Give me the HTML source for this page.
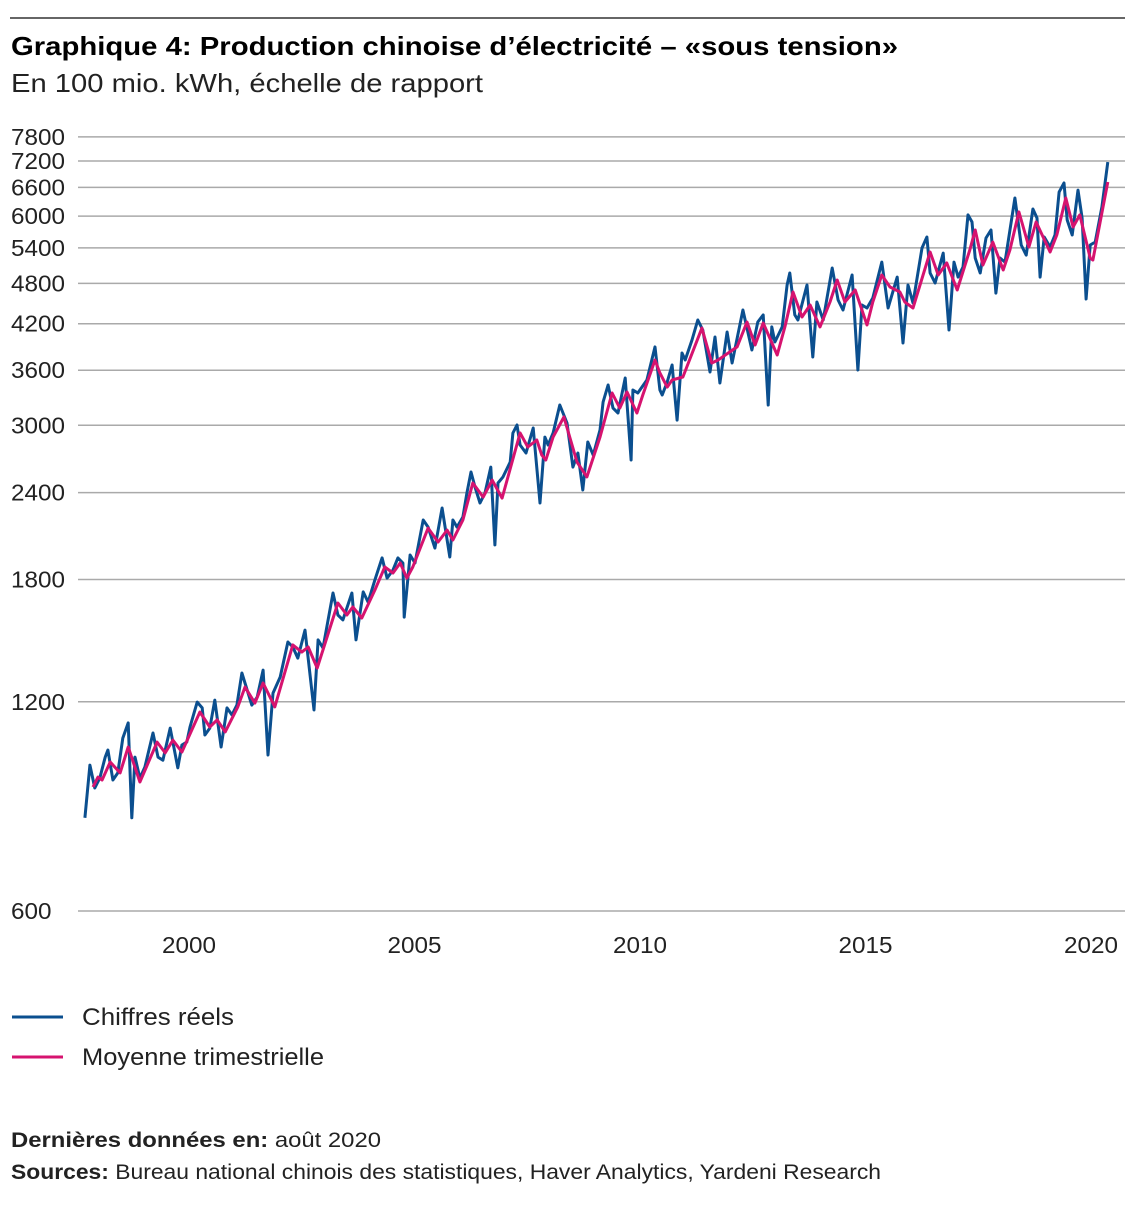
<!DOCTYPE html>
<html><head><meta charset="utf-8"><style>
body{margin:0;background:#fff;font-family:"Liberation Sans",sans-serif;color:#111;}
svg text{font-family:"Liberation Sans",sans-serif;}
</style></head><body>
<svg width="1142" height="1200" xmlns="http://www.w3.org/2000/svg">
<line x1="10" y1="18" x2="1125" y2="18" stroke="#333" stroke-width="1.5"/>
<text x="11" y="55" font-size="26" font-weight="bold" textLength="887" lengthAdjust="spacingAndGlyphs">Graphique 4: Production chinoise d’électricité – «sous tension»</text>
<text x="11" y="92" font-size="26" fill="#222" textLength="472" lengthAdjust="spacingAndGlyphs">En 100 mio. kWh, échelle de rapport</text>
<g id="grid"></g><g id="yt"></g><g id="xt"></g>
<g id="series"></g>
<line x1="12" y1="1017" x2="63" y2="1017" stroke="#0b4f8f" stroke-width="3"/>
<text x="82" y="1025" font-size="24" fill="#222" textLength="152" lengthAdjust="spacingAndGlyphs">Chiffres réels</text>
<line x1="12" y1="1057" x2="63" y2="1057" stroke="#d6136f" stroke-width="3"/>
<text x="82" y="1065" font-size="24" fill="#222" textLength="242" lengthAdjust="spacingAndGlyphs">Moyenne trimestrielle</text>
<text x="11" y="1147" font-size="21" fill="#222" textLength="370" lengthAdjust="spacingAndGlyphs"><tspan font-weight="bold">Dernières données en:</tspan> août 2020</text>
<text x="11" y="1179" font-size="21" fill="#222" textLength="870" lengthAdjust="spacingAndGlyphs"><tspan font-weight="bold">Sources:</tspan> Bureau national chinois des statistiques, Haver Analytics, Yardeni Research</text>
</svg>
<script>
const yTicks=[600,1200,1800,2400,3000,3600,4200,4800,5400,6000,6600,7200,7800];
const xTicks=[2000,2005,2010,2015,2020];
const actualDates=[1997.67,1997.78,1997.89,1998.00,1998.12,1998.18,1998.29,1998.40,1998.51,1998.63,1998.71,1998.78,1998.89,1999.00,1999.18,1999.29,1999.40,1999.56,1999.73,1999.82,1999.93,2000.00,2000.16,2000.27,2000.33,2000.44,2000.55,2000.69,2000.82,2000.93,2001.04,2001.15,2001.37,2001.49,2001.62,2001.73,2001.84,2002.00,2002.17,2002.28,2002.39,2002.55,2002.75,2002.84,2002.95,2003.17,2003.28,2003.39,2003.59,2003.68,2003.84,2003.95,2004.10,2004.26,2004.37,2004.50,2004.61,2004.72,2004.75,2004.88,2004.99,2005.17,2005.28,2005.43,2005.59,2005.76,2005.83,2005.92,2006.05,2006.14,2006.23,2006.32,2006.43,2006.54,2006.67,2006.76,2006.83,2006.94,2007.10,2007.16,2007.25,2007.32,2007.45,2007.61,2007.76,2007.87,2007.94,2008.05,2008.20,2008.36,2008.49,2008.60,2008.71,2008.82,2008.94,2009.09,2009.16,2009.27,2009.38,2009.49,2009.65,2009.78,2009.82,2009.93,2010.13,2010.31,2010.42,2010.47,2010.58,2010.69,2010.80,2010.91,2010.98,2011.13,2011.26,2011.37,2011.53,2011.64,2011.75,2011.91,2012.02,2012.26,2012.46,2012.59,2012.71,2012.82,2012.90,2012.97,2013.13,2013.24,2013.30,2013.41,2013.48,2013.68,2013.81,2013.90,2014.04,2014.24,2014.37,2014.48,2014.68,2014.81,2014.90,2015.01,2015.14,2015.34,2015.48,2015.68,2015.81,2015.92,2016.03,2016.23,2016.34,2016.41,2016.52,2016.70,2016.83,2016.94,2017.03,2017.14,2017.25,2017.34,2017.41,2017.52,2017.65,2017.76,2017.87,2017.96,2018.07,2018.29,2018.43,2018.54,2018.69,2018.78,2018.85,2018.94,2019.07,2019.18,2019.27,2019.38,2019.45,2019.56,2019.69,2019.78,2019.87,2019.96,2020.07,2020.22,2020.35];
const actualValues=[817,973,902,932,999,1023,926,948,1064,1119,817,999,932,967,1082,999,989,1100,964,1040,1050,1104,1199,1176,1075,1100,1207,1033,1176,1149,1187,1320,1187,1219,1333,1006,1235,1303,1463,1439,1387,1522,1168,1473,1434,1721,1600,1574,1721,1473,1727,1670,1797,1933,1808,1857,1933,1901,1589,1952,1901,2192,2141,1997,2281,1939,2192,2141,2214,2397,2570,2445,2319,2397,2612,2018,2478,2528,2656,2924,3003,2810,2737,2973,2319,2885,2810,2924,3208,3023,2612,2737,2421,2838,2718,2953,3241,3428,3176,3124,3509,2674,3372,3339,3485,3889,3372,3317,3463,3663,3052,3812,3724,3979,4252,4114,3579,4019,3451,4087,3688,4396,3850,4224,4324,3208,4156,3953,4156,4775,4969,4324,4252,4775,3761,4514,4252,5052,4543,4396,4936,3603,4469,4424,4574,5152,4424,4901,3940,4775,4498,5398,5598,4969,4806,5308,4114,5152,4901,5069,6024,5884,5222,4969,5580,5729,4649,5222,5152,6371,5452,5273,6143,5962,4901,5598,5415,5636,6497,6695,5923,5636,6540,5962,4559,5452,5505,6185,7175];
const avgDates=[1997.85,1997.96,1998.05,1998.23,1998.45,1998.63,1998.89,1999.05,1999.27,1999.45,1999.62,1999.82,2000.22,2000.44,2000.60,2000.78,2001.06,2001.22,2001.44,2001.62,2001.88,2002.28,2002.48,2002.62,2002.82,2003.28,2003.48,2003.61,2003.81,2004.10,2004.32,2004.50,2004.66,2004.81,2004.94,2005.28,2005.50,2005.70,2005.83,2006.05,2006.27,2006.50,2006.70,2006.92,2007.32,2007.49,2007.69,2007.80,2007.89,2008.05,2008.29,2008.58,2008.80,2009.09,2009.36,2009.53,2009.69,2009.91,2010.04,2010.31,2010.42,2010.58,2010.69,2010.93,2011.35,2011.57,2011.71,2012.13,2012.35,2012.53,2012.71,2013.02,2013.19,2013.37,2013.57,2013.75,2013.97,2014.19,2014.35,2014.52,2014.75,2015.01,2015.14,2015.34,2015.52,2015.74,2015.85,2016.03,2016.41,2016.59,2016.78,2017.01,2017.29,2017.41,2017.58,2017.80,2018.03,2018.18,2018.38,2018.60,2018.76,2019.07,2019.22,2019.42,2019.58,2019.73,2019.96,2020.02,2020.35];
const avgValues=[905,935,926,983,948,1033,920,973,1050,1013,1057,1016,1160,1104,1130,1086,1180,1260,1195,1277,1180,1449,1415,1439,1342,1665,1600,1643,1584,1738,1876,1839,1901,1808,1876,2134,2038,2120,2051,2192,2478,2365,2502,2357,2924,2792,2857,2718,2674,2885,3083,2656,2528,2885,3339,3176,3350,3124,3317,3724,3567,3405,3485,3520,4140,3688,3724,3889,4224,3914,4210,3787,4156,4665,4295,4469,4156,4514,4854,4514,4696,4182,4514,4936,4743,4665,4514,4424,5327,4936,5136,4696,5362,5729,5102,5505,5019,5362,6083,5415,5884,5327,5636,6371,5787,6024,5222,5187,6717];
const NS='http://www.w3.org/2000/svg';
const Y0=911,K=301.8;
function yScale(v){return Y0-K*Math.log(v/600);}
function xScale(t){return 190+(t-2000)*45.1;}
const grid=document.getElementById('grid'),yt=document.getElementById('yt'),xt=document.getElementById('xt'),ser=document.getElementById('series');
yTicks.forEach(v=>{
  const l=document.createElementNS(NS,'line');
  l.setAttribute('x1',78);l.setAttribute('x2',1125);
  l.setAttribute('y1',yScale(v));l.setAttribute('y2',yScale(v));
  l.setAttribute('stroke','#aaa');l.setAttribute('stroke-width',1.5);
  
  
  grid.appendChild(l);
  const t=document.createElementNS(NS,'text');
  t.setAttribute('x',11);t.setAttribute('y',yScale(v)+8);t.setAttribute('font-size','23');t.setAttribute('fill','#222');
  t.setAttribute('textLength',String(v).length*13.5);t.setAttribute('lengthAdjust','spacingAndGlyphs');
  t.textContent=v;
  
  
  yt.appendChild(t);
});
xTicks.forEach(y=>{
  const t=document.createElementNS(NS,'text');
  t.setAttribute('x',xScale(y)-28);t.setAttribute('y',953);t.setAttribute('font-size','23');t.setAttribute('fill','#222');
  t.setAttribute('textLength',54);t.setAttribute('lengthAdjust','spacingAndGlyphs');
  t.textContent=y;
  
  
  xt.appendChild(t);
});
function line(d,v,c,name){
  const p=document.createElementNS(NS,'polyline');
  p.setAttribute('points',d.map((t,i)=>xScale(t).toFixed(1)+','+yScale(v[i]).toFixed(1)).join(' '));
  p.setAttribute('fill','none');p.setAttribute('stroke',c);p.setAttribute('stroke-width','3');p.setAttribute('stroke-linejoin','round');
  
  
  ser.appendChild(p);
}
line(actualDates,actualValues,'#0b4f8f','actual-series-line');
line(avgDates,avgValues,'#d6136f','average-series-line');
</script>
</body></html>
